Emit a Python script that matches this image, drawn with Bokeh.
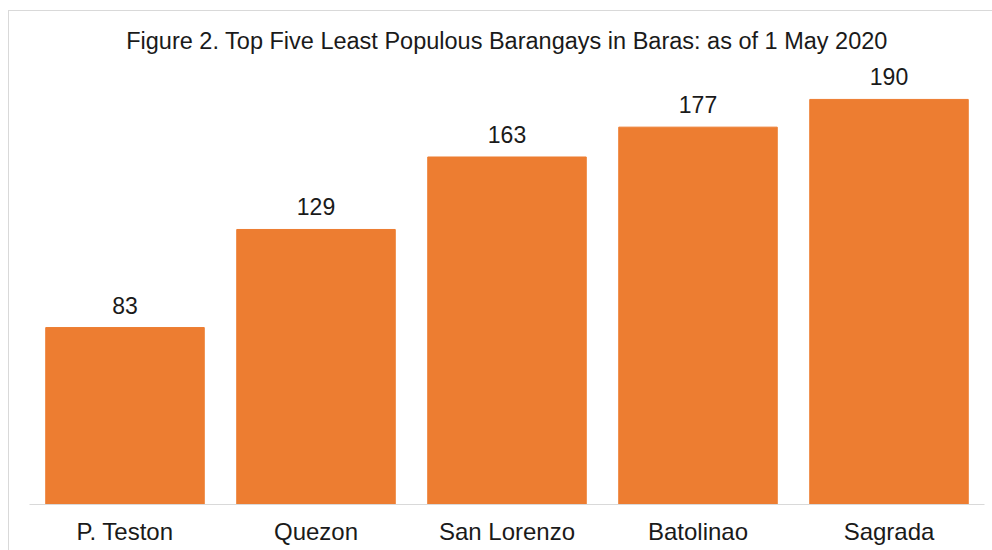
from bokeh.plotting import figure
from bokeh.models import ColumnDataSource, LabelSet, Title
from bokeh.core.properties import value
from bokeh.embed import file_html
from bokeh.resources import INLINE

categories = ["P. Teston", "Quezon", "San Lorenzo", "Batolinao", "Sagrada"]
population = [83, 129, 163, 177, 190]
labels = [str(v) for v in population]

src = ColumnDataSource(dict(cat=categories, val=population, lab=labels))

p = figure(x_range=categories, y_range=(0, 209.2), width=984, height=540,
           output_backend="svg", toolbar_location=None,
           min_border_left=20, min_border_right=9, min_border_top=47, min_border_bottom=47)
p.margin = (10, 0, 0, 8)
p.styles = {"border-top": "1px solid #d9d9d9", "border-left": "1px solid #d9d9d9"}

p.vbar(x="cat", top="val", width=0.83, source=src, color="#ED7D31")

p.add_layout(LabelSet(x="cat", y="val", text="lab", source=src, text_align="center",
                      text_baseline="alphabetic", y_offset=14,
                      text_font=value("Liberation Sans"),
                      text_font_size="23px", text_color="#1a1a1a"))

p.title = Title(text="Figure 2. Top Five Least Populous Barangays in Baras: as of 1 May 2020",
                align="center", text_font="Liberation Sans", text_font_size="23.5px",
                text_font_style="normal", text_color="#1a1a1a", offset=0)

p.yaxis.visible = False
p.grid.visible = False
p.outline_line_color = None
p.xaxis.axis_line_color = "#d9d9d9"
p.xaxis.major_tick_line_color = None
p.xaxis.minor_tick_line_color = None
p.xaxis.major_label_text_font = "Liberation Sans"
p.xaxis.major_label_text_font_size = "24px"
p.xaxis.major_label_text_color = "#1a1a1a"
p.xaxis.major_label_standoff = 7
p.x_range.range_padding = 0
p.background_fill_color = "white"
p.border_fill_color = "white"

open("out.html", "w").write(file_html(p, INLINE))
